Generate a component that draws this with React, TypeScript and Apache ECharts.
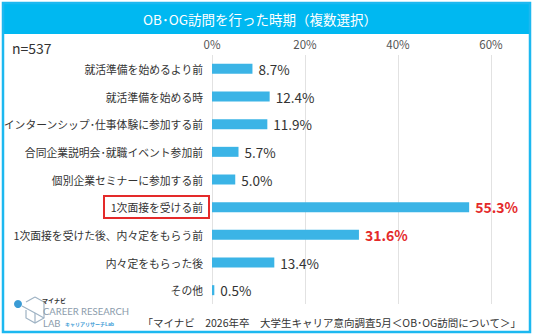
import React, { useEffect, useRef } from "react";
import * as echarts from "echarts";

const categories = [
  "就活準備を始めるより前",
  "就活準備を始める時",
  "インターンシップ･仕事体験に参加する前",
  "合同企業説明会･就職イベント参加前",
  "個別企業セミナーに参加する前",
  "1次面接を受ける前",
  "1次面接を受けた後、内々定をもらう前",
  "内々定をもらった後",
  "その他",
];
const values = [8.7, 12.4, 11.9, 5.7, 5.0, 55.3, 31.6, 13.4, 0.5];
const highlighted = [false, false, false, false, false, true, true, false, false];
const xTicks = [0, 20, 40, 60];
const titleText = "OB･OG訪問を行った時期（複数選択）";
const sampleText = "n=537";
const sourceText = "「マイナビ　2026年卒　大学生キャリア意向調査5月＜OB･OG訪問について＞」";

const FONT = "'Noto Sans CJK JP', 'Noto Sans', sans-serif";
const BLUE = "#3BB4E6";
const FRAME = "#1CB8F0";
const RED = "#E42A2A";

export default function App() {
  const ref = useRef<HTMLDivElement>(null);
  useEffect(() => {
    const chart = echarts.init(ref.current!, null, { renderer: "svg" });
    chart.setOption({
      animation: false,
      backgroundColor: "#ffffff",
      textStyle: { fontFamily: FONT },
      grid: { left: 212, right: 45, top: 55, bottom: 32, containLabel: false, outerBoundsMode: "none" },
      xAxis: {
        type: "value",
        position: "top",
        min: xTicks[0],
        max: xTicks[xTicks.length - 1],
        interval: 20,
        axisLine: { show: false },
        axisTick: { show: false },
        splitLine: { show: true, lineStyle: { color: "#e2e2e2", width: 1 } },
        axisLabel: {
          formatter: (v: number) => v + "%",
          color: "#555",
          fontSize: 11.5,
          margin: 5,
          fontFamily: FONT,
        },
      },
      yAxis: {
        type: "category",
        inverse: true,
        data: categories,
        axisLine: { show: false },
        axisTick: { show: false },
        axisLabel: { color: "#333", fontSize: 10.8, margin: 9, fontFamily: FONT },
      },
      series: [
        {
          type: "bar",
          barWidth: 10,
          data: values.map((v, i) => ({
            value: v,
            label: highlighted[i]
              ? { color: RED, fontWeight: "bold", fontSize: 14 }
              : { color: "#333", fontSize: 13.5 },
          })),
          itemStyle: { color: BLUE },
          label: {
            show: true,
            position: "right",
            distance: 6,
            formatter: (p: any) => p.value.toFixed(1) + "%",
            fontFamily: FONT,
          },
        },
      ],
      graphic: [
        {
          type: "rect",
          shape: { x: 3, y: 3, width: 527, height: 329 },
          style: { fill: "none", stroke: FRAME, lineWidth: 2.5 },
          z: 10,
        },
        {
          type: "rect",
          shape: { x: 3, y: 3, width: 527, height: 31 },
          style: { fill: "#00B8F1" },
          z: 9,
        },
        {
          type: "text",
          x: 260,
          y: 19,
          style: {
            text: titleText,
            fill: "#fff",
            fontSize: 13.5,
            fontFamily: FONT,
            align: "center",
            verticalAlign: "middle",
          },
          z: 11,
        },
        {
          type: "text",
          x: 12,
          y: 48,
          style: {
            text: sampleText,
            fill: "#333",
            fontSize: 14,
            fontFamily: FONT,
            verticalAlign: "middle",
          },
        },
        {
          type: "rect",
          shape: { x: 104, y: 196, width: 105, height: 22 },
          style: { fill: "none", stroke: RED, lineWidth: 2 },
          z: 10,
        },
        {
          type: "text",
          x: 521,
          y: 322,
          style: {
            text: sourceText,
            fill: "#333",
            fontSize: 10.5,
            fontFamily: FONT,
            align: "right",
            verticalAlign: "middle",
          },
        },
        // logo
        {
          type: "circle",
          shape: { cx: 18, cy: 304, r: 4 },
          style: { fill: "#3A9BD5" },
        },
        {
          type: "polyline",
          shape: { points: [[35, 297], [44, 302], [44, 318], [35, 323], [26, 318], [26, 310]] },
          style: { stroke: "#9FB3C4", lineWidth: 1.2, fill: "none" },
        },
        {
          type: "polyline",
          shape: { points: [[26, 302], [35, 297]] },
          style: { stroke: "#9FB3C4", lineWidth: 1.2, fill: "none" },
        },
        {
          type: "polyline",
          shape: { points: [[22, 306], [35, 313], [44, 318]] },
          style: { stroke: "#9FB3C4", lineWidth: 1.2, fill: "none" },
        },
        {
          type: "polyline",
          shape: { points: [[35, 313], [35, 323]] },
          style: { stroke: "#9FB3C4", lineWidth: 1.2, fill: "none" },
        },
        {
          type: "text",
          x: 42,
          y: 300,
          style: { text: "マイナビ", fill: "#333", fontSize: 6, fontWeight: "bold", fontFamily: FONT, verticalAlign: "middle" },
        },
        {
          type: "text",
          x: 43,
          y: 311,
          style: { text: "CAREER RESEARCH", fill: "#8A9BAB", fontSize: 9.5, fontFamily: "'Lato', sans-serif", verticalAlign: "middle" },
        },
        {
          type: "text",
          x: 43,
          y: 323,
          style: { text: "LAB", fill: "#8A9BAB", fontSize: 9.5, fontFamily: "'Lato', sans-serif", verticalAlign: "middle" },
        },
        {
          type: "text",
          x: 65,
          y: 323,
          style: { text: "キャリアリサーチLab", fill: "#3A9BD5", fontSize: 5, fontWeight: "bold", fontFamily: FONT, verticalAlign: "middle" },
        },
      ],
    });
    return () => chart.dispose();
  }, []);
  return <div ref={ref} style={{ width: 536, height: 336, position: "absolute", left: 0, top: 0 }} />;
}
